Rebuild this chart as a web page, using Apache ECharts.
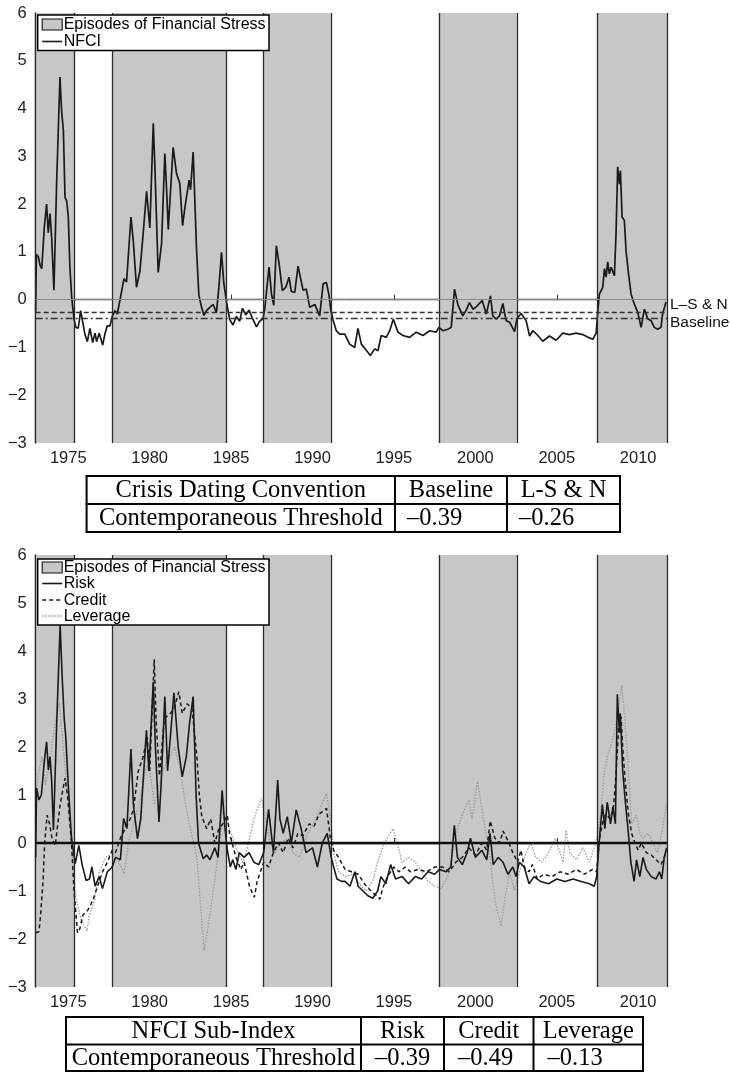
<!DOCTYPE html>
<html><head><meta charset="utf-8">
<script src="https://cdn.jsdelivr.net/npm/echarts@6/dist/echarts.min.js"></script>
<style>html,body{margin:0;padding:0;background:#fff}#c{width:730px;height:1072px}</style>
</head><body><div id="c"></div><script>
// ---------- data ----------
const xTickYears = [1975, 1980, 1985, 1990, 1995, 2000, 2005, 2010];
const yTickMin = -3, yTickMax = 6;
const episodeStarts = [1973.00, 1977.70, 1986.96, 1997.76, 2007.50];
const episodeEnds   = [1975.35, 1984.72, 1991.12, 2002.55, 2011.77];
const baselineThreshold = -0.39;
const lsnThreshold = -0.26;

const nfciYears = [1973.00,1973.04,1973.16,1973.27,1973.37,1973.53,1973.67,1973.77,1973.88,1973.98,1974.12,1974.29,1974.49,1974.59,1974.70,1974.80,1974.90,1975.00,1975.10,1975.21,1975.35,1975.47,1975.61,1975.76,1975.88,1976.02,1976.17,1976.33,1976.50,1976.64,1976.74,1976.90,1977.11,1977.25,1977.39,1977.56,1977.70,1977.87,1978.01,1978.21,1978.42,1978.58,1978.85,1978.99,1979.19,1979.40,1979.60,1979.81,1980.01,1980.22,1980.32,1980.52,1980.73,1980.93,1981.04,1981.14,1981.44,1981.65,1981.85,1982.02,1982.16,1982.42,1982.51,1982.67,1982.88,1983.02,1983.18,1983.33,1983.49,1983.69,1983.90,1984.10,1984.26,1984.41,1984.55,1984.72,1984.92,1985.12,1985.33,1985.53,1985.70,1985.90,1986.10,1986.35,1986.56,1986.76,1986.96,1987.07,1987.33,1987.48,1987.62,1987.78,1987.95,1988.15,1988.36,1988.56,1988.70,1988.91,1989.11,1989.22,1989.42,1989.62,1989.83,1990.14,1990.44,1990.65,1990.85,1991.01,1991.12,1991.26,1991.46,1991.67,1991.98,1992.28,1992.59,1992.79,1993.00,1993.30,1993.55,1993.82,1994.02,1994.22,1994.53,1994.74,1994.96,1995.25,1995.55,1995.96,1996.37,1996.78,1997.19,1997.60,1997.76,1998.00,1998.31,1998.52,1998.72,1998.93,1999.23,1999.44,1999.64,1999.85,2000.05,2000.42,2000.67,2000.93,2001.07,2001.28,2001.48,2001.69,2001.89,2002.10,2002.41,2002.55,2002.81,2003.12,2003.33,2003.53,2003.84,2004.14,2004.55,2004.96,2005.37,2005.78,2006.19,2006.60,2007.01,2007.21,2007.42,2007.52,2007.62,2007.82,2007.93,2008.03,2008.13,2008.23,2008.34,2008.54,2008.64,2008.74,2008.85,2008.91,2009.01,2009.15,2009.26,2009.40,2009.56,2009.77,2009.97,2010.18,2010.38,2010.59,2010.79,2010.99,2011.20,2011.40,2011.50,2011.71];
const nfciValues = [-0.25,0.95,0.9,0.72,0.65,1.52,2.0,1.4,1.8,1.3,0.2,2.5,4.66,3.96,3.54,2.14,2.07,1.75,0.68,0.05,-0.4,-0.58,-0.6,-0.23,-0.25,-0.72,-0.88,-0.6,-0.9,-0.7,-0.88,-0.7,-0.95,-0.72,-0.55,-0.55,-0.35,-0.23,-0.3,0.05,0.44,0.37,1.73,1.24,0.26,0.6,1.38,2.27,1.5,3.69,2.77,0.57,1.17,3.06,2.3,1.47,3.19,2.64,2.43,1.55,1.92,2.5,2.3,3.09,1.03,0.1,-0.15,-0.33,-0.23,-0.16,-0.1,-0.27,0.3,0.99,0.35,-0.05,-0.42,-0.53,-0.35,-0.45,-0.18,-0.32,-0.22,-0.42,-0.57,-0.45,-0.4,-0.18,0.68,0.12,-0.12,1.13,0.75,0.19,0.26,0.47,0.17,0.15,0.7,0.68,0.2,0.22,-0.16,-0.1,-0.34,0.33,0.36,0.1,-0.21,-0.42,-0.65,-0.72,-0.72,-0.93,-1.0,-0.6,-0.93,-1.06,-1.17,-1.03,-1.07,-0.75,-0.79,-0.65,-0.41,-0.68,-0.75,-0.79,-0.68,-0.75,-0.65,-0.68,-0.58,-0.65,-0.62,-0.58,0.22,-0.11,-0.34,-0.22,-0.06,-0.2,-0.15,-0.02,-0.3,0.08,-0.34,-0.41,-0.34,-0.08,-0.44,-0.47,-0.67,-0.4,-0.29,-0.44,-0.76,-0.65,-0.75,-0.87,-0.76,-0.85,-0.7,-0.73,-0.7,-0.73,-0.8,-0.83,-0.7,-0.23,0.12,0.25,0.65,0.47,0.79,0.54,0.68,0.5,1.38,2.78,2.42,2.7,1.73,1.66,1.0,0.57,0.12,-0.1,-0.26,-0.58,-0.2,-0.4,-0.44,-0.58,-0.62,-0.58,-0.3,-0.05];

const riskYears = [1973.00,1973.05,1973.2,1973.35,1973.5,1973.67,1973.78,1973.88,1973.98,1974.09,1974.3,1974.5,1974.62,1974.75,1974.85,1975.0,1975.2,1975.43,1975.65,1975.85,1976.1,1976.3,1976.45,1976.65,1976.9,1977.1,1977.4,1977.7,1977.9,1978.2,1978.4,1978.6,1978.85,1979.0,1979.25,1979.45,1979.6,1979.8,1979.95,1980.22,1980.35,1980.57,1980.7,1980.93,1981.1,1981.49,1981.75,1982.0,1982.25,1982.45,1982.67,1982.85,1983.0,1983.29,1983.5,1983.7,1984.0,1984.2,1984.45,1984.6,1984.75,1984.95,1985.1,1985.3,1985.5,1985.8,1986.1,1986.4,1986.7,1987.0,1987.3,1987.6,1987.86,1988.0,1988.2,1988.45,1988.7,1989.0,1989.3,1989.6,1990.0,1990.3,1990.6,1990.9,1991.15,1991.3,1991.5,1991.8,1992.0,1992.3,1992.6,1992.8,1993.1,1993.4,1993.7,1994.0,1994.2,1994.5,1994.8,1995.1,1995.5,1995.9,1996.3,1996.7,1997.1,1997.5,1997.8,1998.2,1998.5,1998.71,1998.9,1999.2,1999.5,1999.7,2000.0,2000.4,2000.7,2000.9,2001.1,2001.4,2001.7,2002.0,2002.3,2002.5,2002.7,2003.0,2003.3,2003.6,2004.0,2004.5,2005.0,2005.5,2006.0,2006.5,2007.0,2007.3,2007.45,2007.6,2007.8,2007.95,2008.1,2008.3,2008.45,2008.6,2008.72,2008.85,2008.9,2009.05,2009.2,2009.4,2009.55,2009.75,2009.9,2010.1,2010.3,2010.5,2010.8,2011.1,2011.3,2011.45,2011.6,2011.75];
const riskValues = [-0.3,1.15,0.9,1.0,1.6,2.11,1.52,1.8,1.3,0.27,2.6,4.54,3.5,2.6,2.2,1.2,0.1,-0.43,-0.05,-0.45,-0.78,-0.75,-0.5,-0.9,-0.7,-0.95,-0.6,-0.5,-0.3,-0.35,0.51,0.3,1.96,0.8,0.09,0.5,1.3,2.35,1.5,3.36,2.0,0.44,1.2,3.05,1.5,3.13,2.0,1.38,1.8,2.5,3.05,1.0,0.0,-0.33,-0.25,-0.35,-0.1,-0.3,1.1,0.4,-0.1,-0.5,-0.35,-0.55,-0.2,-0.3,-0.2,-0.4,-0.45,-0.2,0.7,-0.2,1.31,0.5,0.2,0.55,0.0,0.69,0.3,-0.2,-0.1,-0.5,0.0,0.2,-0.3,-0.5,-0.75,-0.8,-0.8,-0.9,-0.6,-0.9,-1.0,-1.1,-1.15,-1.0,-0.7,-0.85,-0.45,-0.75,-0.7,-0.85,-0.7,-0.75,-0.6,-0.65,-0.55,-0.6,-0.5,0.37,-0.3,-0.45,-0.2,0.1,-0.3,-0.15,-0.35,0.2,-0.45,-0.3,-0.4,-0.65,-0.5,-0.7,-0.4,-0.5,-0.85,-0.7,-0.8,-0.85,-0.75,-0.8,-0.75,-0.8,-0.85,-0.9,-0.7,0.0,0.8,0.3,0.85,0.4,0.75,0.4,3.1,2.3,2.7,1.5,0.9,0.2,-0.4,-0.8,-0.35,-0.7,-0.3,-0.55,-0.7,-0.75,-0.6,-0.75,-0.3,-0.1];

const creditYears = [1973.0,1973.2,1973.3,1973.45,1973.55,1973.7,1973.85,1974.0,1974.2,1974.5,1974.8,1974.95,1975.2,1975.35,1975.57,1975.7,1975.9,1976.2,1976.5,1976.8,1977.1,1977.4,1977.7,1977.9,1978.2,1978.5,1978.8,1979.0,1979.3,1979.6,1979.85,1980.0,1980.28,1980.4,1980.6,1980.9,1981.2,1981.5,1981.79,1982.0,1982.3,1982.6,1982.9,1983.05,1983.2,1983.5,1983.75,1984.0,1984.25,1984.5,1984.77,1984.9,1985.1,1985.3,1985.6,1985.8,1986.14,1986.43,1986.6,1986.8,1987.0,1987.3,1987.6,1987.9,1988.2,1988.5,1988.8,1989.1,1989.4,1989.8,1990.1,1990.4,1990.86,1991.1,1991.3,1991.6,1992.0,1992.4,1992.8,1993.3,1993.6,1994.14,1994.3,1994.6,1995.0,1995.3,1995.7,1996.0,1996.5,1997.0,1997.5,1998.0,1998.4,1998.8,1999.2,1999.6,2000.0,2000.4,2000.7,2000.91,2001.2,2001.5,2001.7,2002.0,2002.3,2002.6,2002.8,2003.0,2003.3,2003.5,2003.8,2004.2,2004.7,2005.2,2005.7,2006.2,2006.7,2007.2,2007.45,2007.6,2007.8,2008.0,2008.3,2008.5,2008.65,2008.8,2008.95,2009.05,2009.2,2009.4,2009.6,2009.8,2010.0,2010.2,2010.5,2010.8,2011.1,2011.4,2011.6,2011.75];
const creditValues = [-1.87,-1.85,-1.5,-0.8,0.0,0.58,0.4,0.1,-0.05,0.8,1.35,1.0,0.0,-1.0,-1.87,-1.8,-1.5,-1.4,-1.2,-0.9,-0.6,-0.4,-0.15,-0.2,0.1,0.3,0.5,0.7,1.5,1.8,2.2,1.5,3.83,2.5,1.4,2.6,2.67,2.8,3.15,2.7,2.9,2.8,1.8,1.0,0.55,0.3,0.5,0.0,0.3,0.4,0.58,0.2,-0.05,-0.3,-0.55,-0.4,-0.92,-1.13,-0.8,-0.6,-0.4,-0.5,-0.2,0.0,-0.2,0.1,-0.1,0.2,0.15,0.4,0.35,0.6,0.72,0.1,-0.15,-0.3,-0.55,-0.6,-0.65,-0.9,-1.0,-1.17,-0.95,-0.7,-0.5,-0.6,-0.5,-0.6,-0.55,-0.6,-0.5,-0.5,-0.6,-0.4,-0.3,-0.1,-0.25,0.0,-0.15,0.46,0.1,0.0,0.25,0.05,-0.2,-0.4,-0.15,-0.5,-0.6,-0.45,-0.75,-0.65,-0.7,-0.6,-0.65,-0.55,-0.65,-0.55,-0.6,0.05,0.4,0.6,0.5,0.8,1.5,2.4,2.63,2.0,1.3,0.6,0.2,0.0,-0.15,0.0,-0.2,-0.25,-0.35,-0.45,-0.3,-0.15];

const leverageYears = [1973.0,1973.2,1973.4,1973.6,1973.9,1974.2,1974.45,1974.7,1974.9,1975.1,1975.3,1975.45,1975.8,1976.14,1976.3,1976.6,1976.9,1977.3,1977.7,1978.0,1978.43,1978.7,1979.0,1979.4,1979.8,1980.0,1980.3,1980.8,1981.53,1981.9,1982.2,1982.5,1982.9,1983.1,1983.35,1983.7,1984.1,1984.4,1984.7,1985.0,1985.3,1985.7,1986.0,1986.4,1986.86,1987.1,1987.4,1987.7,1988.0,1988.5,1988.8,1989.2,1989.7,1990.2,1990.86,1991.1,1991.3,1991.6,1992.0,1992.5,1993.0,1993.3,1993.7,1994.0,1994.4,1994.94,1995.2,1995.5,1995.9,1996.3,1996.7,1997.1,1997.5,1997.9,1998.3,1998.6,1998.9,1999.2,1999.6,1999.8,2000.14,2000.35,2000.6,2000.9,2001.2,2001.57,2001.8,2002.1,2002.4,2002.7,2003.0,2003.4,2003.7,2004.1,2004.5,2004.9,2005.2,2005.4,2005.57,2005.8,2006.2,2006.6,2007.0,2007.4,2007.7,2007.9,2008.1,2008.3,2008.55,2008.8,2009.0,2009.2,2009.4,2009.6,2009.89,2010.1,2010.3,2010.6,2010.9,2011.2,2011.5,2011.75];
const leverageValues = [1.0,1.5,1.8,1.2,1.8,2.5,2.92,2.0,1.2,0.5,-0.5,-1.13,-1.6,-1.83,-1.5,-1.2,-0.6,-0.3,-0.2,-0.3,-0.64,0.0,0.4,0.9,1.6,1.5,0.8,1.5,2.0,1.5,0.8,0.3,-0.3,-1.2,-2.25,-1.5,-0.5,0.3,0.5,0.2,-0.1,-0.4,-0.1,0.5,0.93,0.5,0.0,-0.2,0.0,0.1,-0.2,-0.3,0.2,0.5,1.03,0.5,-0.2,-0.6,-0.7,-0.65,-0.9,-1.0,-0.8,-0.4,0.0,0.3,0.0,-0.4,-0.3,-0.4,-0.6,-0.8,-0.9,-0.95,-0.7,-0.2,0.3,0.6,0.9,0.5,1.28,0.8,0.3,-0.3,-1.2,-1.73,-1.2,-0.6,-1.0,-0.6,-0.3,0.0,-0.3,-0.4,-0.2,0.1,-0.2,-0.4,0.27,-0.2,-0.35,-0.1,-0.4,0.0,0.6,1.4,1.8,2.0,2.3,2.8,3.29,2.5,1.5,0.4,0.58,0.2,0.1,0.2,0.0,-0.2,0.3,0.86];

const topTableRows = [["Crisis Dating Convention", "Baseline", "L-S & N"],
                      ["Contemporaneous Threshold", "–0.39", "–0.26"]];
const bottomTableRows = [["NFCI Sub-Index", "Risk", "Credit", "Leverage"],
                         ["Contemporaneous Threshold", "–0.39", "–0.49", "–0.13"]];
const topLegendLabels = ["Episodes of Financial Stress", "NFCI"];
const bottomLegendLabels = ["Episodes of Financial Stress", "Risk", "Credit", "Leverage"];
const thresholdLabels = ["L–S & N", "Baseline"];

// ---------- styles ----------
const SANS = "'Liberation Sans', Arial, sans-serif";
const SERIF = "'Liberation Serif', 'Times New Roman', serif";
const SHADE = '#c6c7c9';
const INK = '#1a1a1a';
const X_MIN = 1973.0, X_MAX = 2011.77;

const pairs = (xs, ys) => xs.map((x, i) => [x, ys[i]]);
const minusFmt = v => (v < 0 ? '\u2212' + Math.abs(v) : String(v));

function xAxisFor(gi) {
  return {
    type: 'value', gridIndex: gi, min: X_MIN, max: X_MAX,
    axisLine: { show: true, lineStyle: { color: '#333', width: 1.3 } },
    axisTick: { show: true, inside: true, length: 5, customValues: xTickYears, lineStyle: { color: '#333' } },
    axisLabel: { customValues: xTickYears, formatter: v => String(Math.round(v)), fontFamily: SANS, fontSize: 16.5, color: '#222', margin: 7 },
    splitLine: { show: false }
  };
}
function yAxisFor(gi) {
  return {
    type: 'value', gridIndex: gi, min: yTickMin, max: yTickMax, interval: 1,
    axisLine: { show: true, onZero: false, lineStyle: { color: '#333', width: 1.3 } },
    axisTick: { show: false },
    axisLabel: { formatter: minusFmt, fontFamily: SANS, fontSize: 16.5, color: '#222', margin: 9 },
    splitLine: { show: false }
  };
}
function shadeSeries(gi) {
  return {
    type: 'line', xAxisIndex: gi, yAxisIndex: gi, data: [], silent: true, z: 1,
    markArea: {
      silent: true,
      itemStyle: { color: SHADE, opacity: 1, borderWidth: 0 },
      data: episodeStarts.map((s, i) => [{ xAxis: s }, { xAxis: episodeEnds[i] }])
    }
  };
}
function boundarySeries(gi) {
  const bounds = [];
  episodeStarts.forEach((s, i) => { bounds.push(s, episodeEnds[i]); });
  return {
    type: 'line', xAxisIndex: gi, yAxisIndex: gi, data: [], silent: true, z: 2,
    markLine: {
      silent: true, symbol: ['none', 'none'], animation: false,
      label: { show: false },
      lineStyle: { color: '#2a2a2a', width: 1.3, type: 'solid' },
      emphasis: { disabled: true },
      data: bounds.map(b => ({ xAxis: b }))
    }
  };
}

// ---------- tables & legends (graphic) ----------
function table(xs, ys, rows, leftPad) {
  const els = [];
  const lw = 2;
  ys.forEach(y => els.push({ type: 'line', z: 100, shape: { x1: xs[0] - 1, y1: y, x2: xs[xs.length - 1] + 1, y2: y }, style: { stroke: '#000', lineWidth: lw } }));
  xs.forEach(x => els.push({ type: 'line', z: 100, shape: { x1: x, y1: ys[0], x2: x, y2: ys[ys.length - 1] }, style: { stroke: '#000', lineWidth: lw } }));
  rows.forEach((row, r) => {
    const cy = (ys[r] + ys[r + 1]) / 2 + 1;
    row.forEach((txt, c) => {
      const left = r === 1 && c > 0;
      els.push({ type: 'text', z: 100, style: {
        text: txt, x: left ? xs[c] + leftPad : (xs[c] + xs[c + 1]) / 2, y: cy,
        align: left ? 'left' : 'center', verticalAlign: 'middle',
        font: '24.5px ' + SERIF, fill: '#000' } });
    });
  });
  return els;
}
function legend(x, y, w, rowYs, labels, kinds) {
  const els = [{ type: 'rect', z: 100, shape: { x: x, y: y, width: w, height: rowYs[rowYs.length - 1] - y + 9 },
                 style: { fill: '#fff', stroke: '#000', lineWidth: 1.5 } }];
  labels.forEach((lab, i) => {
    const cy = rowYs[i];
    const k = kinds[i];
    if (k === 'patch') {
      els.push({ type: 'rect', z: 101, shape: { x: x + 4.5, y: cy - 5.5, width: 20, height: 11 }, style: { fill: SHADE, stroke: '#111', lineWidth: 1.1 } });
    } else {
      els.push({ type: 'line', z: 101, shape: { x1: x + 4.5, y1: cy, x2: x + 24.5, y2: cy }, style: k });
    }
    els.push({ type: 'text', z: 101, style: { text: lab, x: x + 26, y: cy + 0.5, align: 'left', verticalAlign: 'middle', font: '16px ' + SANS, fill: '#000' } });
  });
  return els;
}

const riskStyle = { stroke: INK, lineWidth: 1.6 };
const creditStyle = { stroke: INK, lineWidth: 1.5, lineDash: [4, 3] };
const levStyle = { stroke: '#9a9a9a', lineWidth: 1.3, lineDash: [1.5, 1.5] };

const graphics = []
  .concat(legend(37.7, 15, 231.3, [24.5, 41.5], topLegendLabels, ['patch', riskStyle]))
  .concat(legend(37.7, 559, 231.3, [567.5, 583.5, 600, 616], bottomLegendLabels, ['patch', riskStyle, creditStyle, levStyle]))
  .concat(table([86.6, 395, 507, 620], [476, 504, 532], topTableRows, 12))
  .concat(table([66, 361, 444, 533.5, 643], [1017, 1044.5, 1071], bottomTableRows, 14));

// ---------- chart ----------
const chart = echarts.init(document.getElementById('c'), null, { renderer: 'canvas' });
chart.setOption({
  animation: false,
  backgroundColor: '#fff',
  grid: [
    { left: 35.7, top: 13, width: 631.3, height: 430 },
    { left: 35.7, top: 555, width: 631.3, height: 432 }
  ],
  xAxis: [xAxisFor(0), xAxisFor(1)],
  yAxis: [yAxisFor(0), yAxisFor(1)],
  series: [
    shadeSeries(0), boundarySeries(0),
    {
      name: 'NFCI', type: 'line', xAxisIndex: 0, yAxisIndex: 0, z: 4,
      data: pairs(nfciYears, nfciValues), showSymbol: false, symbol: 'none',
      lineStyle: { color: INK, width: 1.7 }, silent: true,
      markLine: {
        silent: true, symbol: ['none', 'none'],
        data: [
          { yAxis: 0, lineStyle: { color: '#8a8a8a', width: 1, type: 'solid' }, label: { show: false } },
          { yAxis: lsnThreshold, lineStyle: { color: '#333', width: 1.4, type: [5, 3] },
            label: { show: true, position: 'end', formatter: thresholdLabels[0], distance: 3, verticalAlign: 'bottom', lineHeight: 14, fontFamily: SANS, fontSize: 15.5, color: '#111' } },
          { yAxis: baselineThreshold, lineStyle: { color: '#333', width: 1.4, type: [7, 3, 2, 3] },
            label: { show: true, position: 'end', formatter: thresholdLabels[1], distance: 3, verticalAlign: 'top', lineHeight: 8, fontFamily: SANS, fontSize: 15.5, color: '#111' } }
        ]
      }
    },
    shadeSeries(1), boundarySeries(1),
    {
      name: 'Leverage', type: 'line', xAxisIndex: 1, yAxisIndex: 1, z: 3,
      data: pairs(leverageYears, leverageValues), showSymbol: false, symbol: 'none', silent: true,
      lineStyle: { color: '#9a9a9a', width: 1.3, type: [1.5, 1.5] }
    },
    {
      name: 'Credit', type: 'line', xAxisIndex: 1, yAxisIndex: 1, z: 4,
      data: pairs(creditYears, creditValues), showSymbol: false, symbol: 'none', silent: true,
      lineStyle: { color: INK, width: 1.5, type: [4, 3] }
    },
    {
      name: 'Risk', type: 'line', xAxisIndex: 1, yAxisIndex: 1, z: 5,
      data: pairs(riskYears, riskValues), showSymbol: false, symbol: 'none', silent: true,
      lineStyle: { color: INK, width: 1.6 },
      markLine: {
        silent: true, symbol: ['none', 'none'], label: { show: false },
        data: [{ yAxis: 0, lineStyle: { color: '#111', width: 2.4, type: 'solid' } }]
      }
    }
  ],
  graphic: graphics
});
</script></body></html>
